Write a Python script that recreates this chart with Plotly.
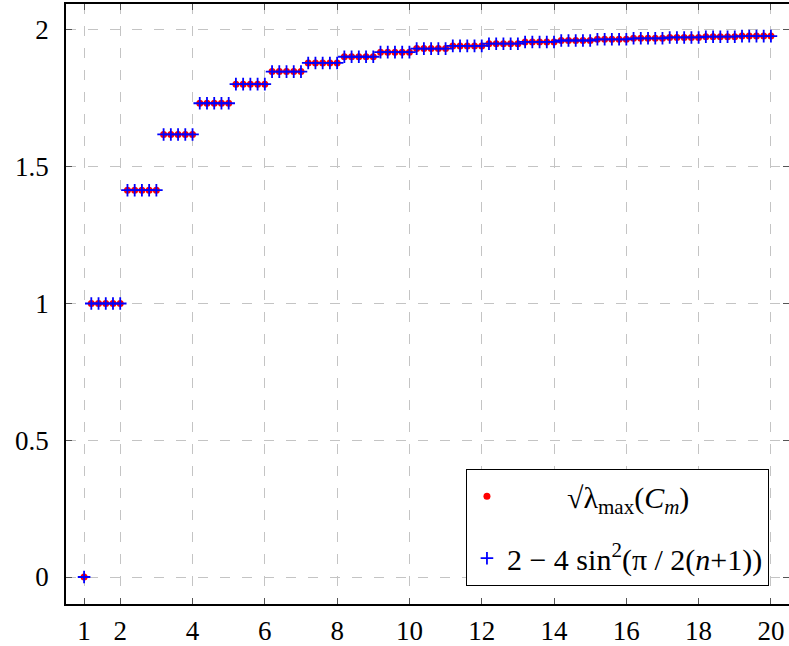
import plotly.graph_objects as go

# group index n (x-axis tick region) and the value for that group
groups = [1, 2, 3, 4, 5, 6, 7, 8, 9, 10, 11, 12, 13, 14, 15, 16, 17, 18, 19, 20]
sqrt_lambda_max = [0.0, 1.0, 1.41421, 1.61803, 1.73205, 1.80194, 1.84776, 1.87939,
                   1.90211, 1.91899, 1.93185, 1.94188, 1.94986, 1.95630, 1.96157,
                   1.96595, 1.96962, 1.97272, 1.97538, 1.97766]
formula_values = [0.0, 1.0, 1.41421, 1.61803, 1.73205, 1.80194, 1.84776, 1.87939,
                  1.90211, 1.91899, 1.93185, 1.94188, 1.94986, 1.95630, 1.96157,
                  1.96595, 1.96962, 1.97272, 1.97538, 1.97766]
# samples inside each group: first group only its end point, others 5 samples
sub_steps_first = [0.0]
sub_steps = [-0.8, -0.6, -0.4, -0.2, 0.0]

x_tick_vals = [1, 2, 4, 6, 8, 10, 12, 14, 16, 18, 20]
y_tick_vals = [0, 0.5, 1, 1.5, 2]
y_tick_text = ["0", "0.5", "1", "1.5", "2"]

xs, y1, y2 = [], [], []
for i, n in enumerate(groups):
    steps = sub_steps_first if i == 0 else sub_steps
    for s in steps:
        xs.append(round(n + s, 2))
        y1.append(sqrt_lambda_max[i])
        y2.append(formula_values[i])

FONT = "Liberation Serif, DejaVu Serif, serif"

fig = go.Figure()
fig.add_trace(go.Scatter(
    x=xs, y=y1, mode="markers", legendgroup="a",
    name="\u2003\u2003√λ<sub>max</sub>(<i>C<sub>m</sub></i>)",
    marker=dict(symbol="circle", size=7, color="red", line=dict(width=0)),
))
fig.add_trace(go.Scatter(
    x=xs, y=y2, mode="markers", legendgroup="b",
    name="2 − 4 sin<sup>2</sup>(π / 2(<i>n</i>+1))",
    marker=dict(symbol="cross-thin", size=9, color="blue", line=dict(width=1.8, color="blue")),
))

axis_common = dict(
    showline=True, linecolor="black", linewidth=1.5, mirror="allticks",
    ticks="inside", ticklen=6, tickcolor="#555555", tickwidth=1,
    showgrid=True, gridcolor="#c4c4c4", gridwidth=1.3, griddash="10px,12px",
    zeroline=False, automargin=False,
    tickfont=dict(family=FONT, size=27, color="black"),
)

fig.update_layout(
    width=789, height=646,
    margin=dict(l=66, r=0, t=4, b=42, autoexpand=False),
    paper_bgcolor="white", plot_bgcolor="white",
    xaxis=dict(range=[0.5, 20.5], tickvals=x_tick_vals,
               ticklabelstandoff=2, **axis_common),
    yaxis=dict(range=[-0.0987, 2.095], tickvals=y_tick_vals, ticktext=y_tick_text,
               ticklabelstandoff=10, **axis_common),
    legend=dict(
        x=0.972, y=0.03, xanchor="right", yanchor="bottom",
        bordercolor="black", borderwidth=1.2, bgcolor="white",
        font=dict(family=FONT, size=30, color="black"),
        itemsizing="trace", tracegroupgap=20,
    ),
    showlegend=True,
)

fig.write_html("out.html", config={"displayModeBar": False},
               post_script="document.body.style.margin='0px';document.body.style.overflow='hidden';")
